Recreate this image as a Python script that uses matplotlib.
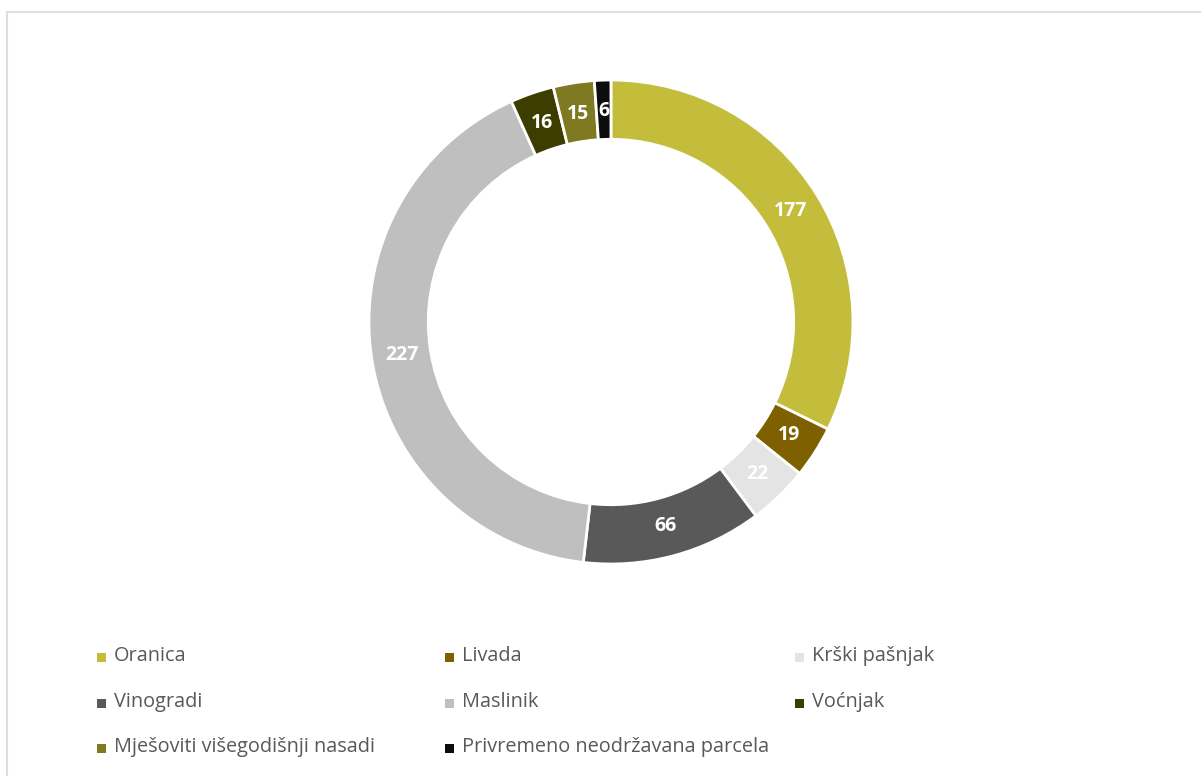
import matplotlib.pyplot as plt
from matplotlib.patches import Rectangle

categories = ['Oranica', 'Livada', 'Krški pašnjak', 'Vinogradi', 'Maslinik',
              'Voćnjak', 'Mješoviti višegodišnji nasadi', 'Privremeno neodržavana parcela']
values = [177, 19, 22, 66, 227, 16, 15, 6]
colors = ['#C4BD3B', '#7F6000', '#E4E4E4', '#595959', '#BFBFBF',
          '#3D3D00', '#7F7A22', '#0D0D0D']

plt.rcParams['font.family'] = ['Open Sans', 'DejaVu Sans']

fig = plt.figure(figsize=(12.01, 7.76), dpi=100)
fig.patches.append(Rectangle((7 / 1201, -0.01), 1.0, 1.01 - 12 / 776, transform=fig.transFigure,
                             fill=False, edgecolor='#DEDEDE', linewidth=1.5))

ax = fig.add_axes([0.3072, 0.2732, 0.403, 0.6237])
wedges, texts = ax.pie(values, colors=colors, startangle=90, counterclock=False,
                       radius=1.0, labels=[str(v) for v in values], labeldistance=0.872,
                       wedgeprops=dict(width=0.245, edgecolor='white', linewidth=2),
                       textprops=dict(color='white', fontsize=14, fontweight='bold',
                                      ha='center', va='center'))
ax.set_xlim(-1.0, 1.0)
ax.set_ylim(-1.0, 1.0)
ax.set_aspect('equal')

# legend laid out row by row, 3 columns
col_x = [97, 445, 795]
row_y = [656, 702, 747]
for i, (name, c) in enumerate(zip(categories, colors)):
    x = col_x[i % 3]
    y = row_y[i // 3]
    fig.patches.append(Rectangle((x / 1201, 1 - (y + 6) / 776), 9 / 1201, 9 / 776,
                                 transform=fig.transFigure, facecolor=c, edgecolor='none'))
    fig.text((x + 17) / 1201, 1 - y / 776, name, fontsize=14.3, color='#595959',
             ha='left', va='center')

fig.savefig('out.png', dpi=100)
